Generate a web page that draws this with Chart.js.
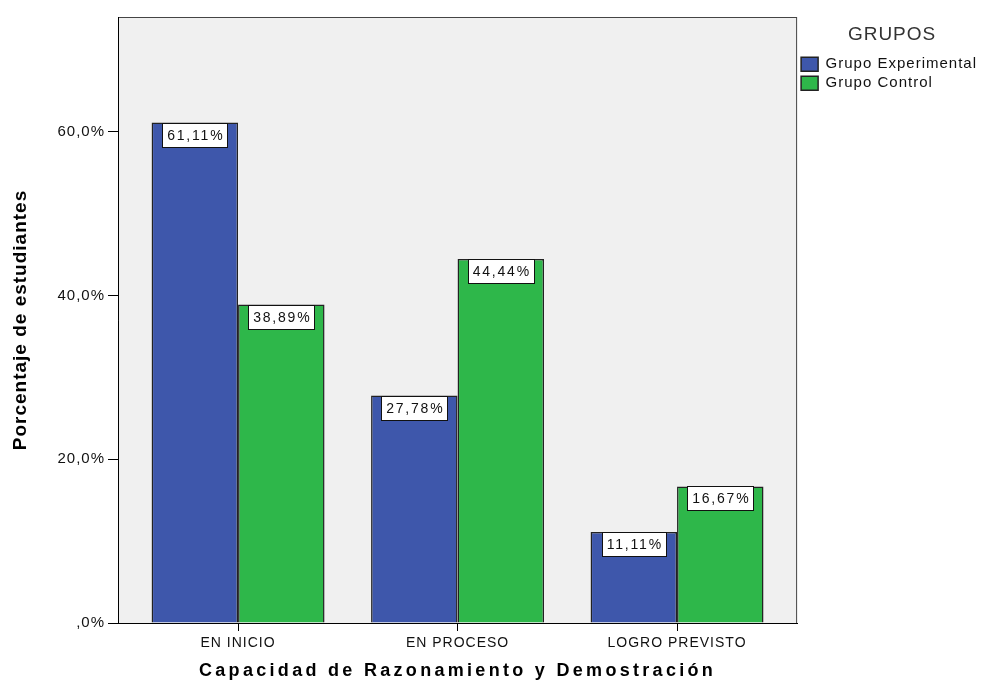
<!DOCTYPE html>
<html>
<head>
<meta charset="utf-8">
<script src="https://cdn.jsdelivr.net/npm/chart.js@4.4.1/dist/chart.umd.min.js"></script>
<style>
  html, body { margin: 0; padding: 0; background: #fff; }
  #wrap { width: 987px; height: 684px; position: relative; }
</style>
</head>
<body>
<div id="wrap"><canvas id="chart"></canvas></div>
<script>
// data
const categories = ['EN INICIO', 'EN PROCESO', 'LOGRO PREVISTO'];
const groupNames = ['Grupo Experimental', 'Grupo Control'];
const experimentalValues = [61.11, 27.78, 11.11];
const controlValues = [38.89, 44.44, 16.67];
const yTickValues = [0, 20, 40, 60];

const FONT = "'Liberation Sans', Arial, sans-serif";
const BLUE = '#3e57ab';
const GREEN = '#2eb74a';

const pct = v => v.toFixed(2).replace('.', ',') + '%';

// text in the original looks slightly stretched, so add some letter spacing
const spacingPlugin = {
    id: 'spacing',
    beforeUpdate(chart) {
        chart.ctx.letterSpacing = '1px';
    },
    beforeDraw(chart) {
        const ctx = chart.ctx;
        ctx.letterSpacing = '1px';
        const titleSpacing = { x: '3.3px', y: '1px' };
        Object.keys(titleSpacing).forEach(id => {
            const sc = chart.scales[id];
            if (!sc || sc._spaced) return;
            const orig = sc.drawTitle;
            sc.drawTitle = function() {
                const prev = this.ctx.letterSpacing;
                this.ctx.letterSpacing = titleSpacing[id];
                orig.apply(this, arguments);
                this.ctx.letterSpacing = prev;
            };
            sc._spaced = true;
        });
    }
};

const plotFrame = {
    id: 'plotFrame',
    beforeDraw(chart) {
        const {ctx, chartArea: a} = chart;
        ctx.save();
        ctx.fillStyle = '#f0f0f0';
        ctx.fillRect(a.left, a.top, a.right - a.left, a.bottom - a.top);
        ctx.strokeStyle = '#444';
        ctx.lineWidth = 1;
        ctx.strokeRect(a.left + 0.5, a.top + 0.5, a.right - a.left - 1, a.bottom - a.top);
        ctx.restore();
    }
};

// white boxed value labels at the top of each bar
const valueLabels = {
    id: 'valueLabels',
    afterDatasetsDraw(chart) {
        const ctx = chart.ctx;
        ctx.save();
        ctx.font = '14px ' + FONT;
        ctx.letterSpacing = '1.8px';
        ctx.textAlign = 'center';
        ctx.textBaseline = 'middle';
        chart.data.datasets.forEach((ds, di) => {
            const meta = chart.getDatasetMeta(di);
            meta.data.forEach((bar, i) => {
                const text = pct(ds.data[i].y);
                const w = Math.round(ctx.measureText(text).width) + 8;
                const h = 24;
                const left = Math.round(bar.x - w / 2) + 0.5;
                const top = Math.round(bar.y) + 0.5;
                ctx.fillStyle = '#fff';
                ctx.fillRect(left, top, w, h);
                ctx.strokeStyle = '#111';
                ctx.lineWidth = 1;
                ctx.strokeRect(left, top, w, h);
                ctx.fillStyle = '#111';
                ctx.fillText(text, bar.x + 1, top + h / 2 + 1);
            });
        });
        ctx.restore();
    }
};

new Chart(document.getElementById('chart'), {
    type: 'bar',
    data: {
        datasets: [{
            label: groupNames[0],
            data: experimentalValues.map((v, i) => ({x: i, y: v})),
            backgroundColor: BLUE,
            borderColor: '#222',
            borderWidth: 1.5
        }, {
            label: groupNames[1],
            data: controlValues.map((v, i) => ({x: i, y: v})),
            backgroundColor: GREEN,
            borderColor: '#222',
            borderWidth: 1.5
        }]
    },
    options: {
        responsive: true,
        maintainAspectRatio: false,
        animation: false,
        categoryPercentage: 0.788,
        barPercentage: 1,
        layout: { padding: { top: 17, left: 0, right: 0, bottom: 0 } },
        plugins: {
            tooltip: { enabled: false },
            legend: {
                position: 'right',
                align: 'start',
                maxWidth: 190,
                labels: {
                    boxWidth: 17,
                    boxHeight: 14,
                    padding: 4,
                    color: '#111',
                    font: { family: FONT, size: 15 }
                },
                title: {
                    display: true,
                    text: 'GRUPOS',
                    color: '#333',
                    font: { family: FONT, size: 19 },
                    padding: { top: 8, bottom: 5 }
                }
            }
        },
        scales: {
            x: {
                type: 'linear',
                min: -0.547,
                max: 2.547,
                offset: false,
                afterBuildTicks: axis => { axis.ticks = categories.map((c, i) => ({value: i})); },
                afterFit: axis => { axis.height = 61; },
                grid: { display: true, offset: false, drawOnChartArea: false, tickLength: 8, tickColor: '#000' },
                border: { color: '#000', width: 1 },
                ticks: {
                    color: '#111',
                    padding: 4,
                    maxRotation: 0,
                    font: { family: FONT, size: 14 },
                    callback: v => categories[v]
                },
                title: {
                    display: true,
                    text: 'Capacidad de Razonamiento y Demostración',
                    color: '#000',
                    font: { family: FONT, size: 18, weight: 'bold' },
                    padding: { top: 0, bottom: 2 }
                }
            },
            y: {
                min: 0,
                max: 74,
                afterBuildTicks: axis => { axis.ticks = yTickValues.map(v => ({value: v})); },
                afterFit: axis => { axis.width = 118; },
                grid: { display: true, drawOnChartArea: false, tickLength: 10, tickColor: '#000' },
                border: { color: '#000', width: 1 },
                ticks: {
                    color: '#111',
                    padding: 3,
                    font: { family: FONT, size: 15 },
                    callback: v => v === 0 ? ',0%' : v.toFixed(1).replace('.', ',') + '%'
                },
                title: {
                    display: true,
                    text: 'Porcentaje de estudiantes',
                    color: '#000',
                    font: { family: FONT, size: 19, weight: 'bold' },
                    padding: { top: 9, bottom: 0 }
                }
            }
        }
    },
    plugins: [spacingPlugin, plotFrame, valueLabels]
});
</script>
</body>
</html>
